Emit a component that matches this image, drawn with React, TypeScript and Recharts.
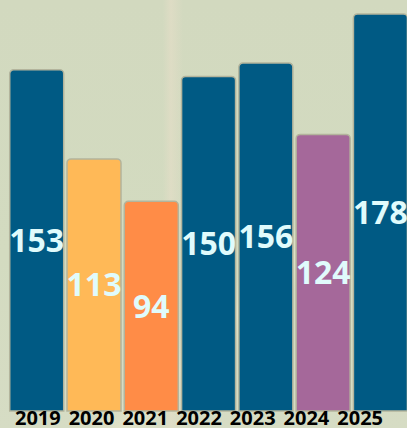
import { BarChart, Bar, XAxis, YAxis, Cell, LabelList } from 'recharts'

const years = ['2019', '2020', '2021', '2022', '2023', '2024', '2025']
const counts = [153, 113, 94, 150, 156, 124, 178]

const barColors = ['#005a84', '#ffb957', '#ff8c47', '#005a84', '#005a84', '#a5689a', '#005a84']

const data = years.map((year, i) => ({ year, count: counts[i] }))

const font = '"Open Sans", "Noto Sans", sans-serif'

// map-ish backdrop, just faint streaks over a sage base
const backdrop = [
  'linear-gradient(135deg, rgba(255,255,255,0) 62%, rgba(236,232,205,.55) 66%, rgba(255,255,255,0) 70%)',
  'linear-gradient(90deg, rgba(255,255,255,0) 40%, rgba(230,222,200,.6) 42%, rgba(255,255,255,0) 45%)',
  'linear-gradient(180deg, #d2d9bf 0%, #d3dbc0 60%, #d6dcc4 100%)',
].join(', ')

export default function App() {
  return (
    <div
      style={{
        position: 'fixed',
        top: 0,
        left: 0,
        width: 407,
        height: 428,
        overflow: 'hidden',
        background: backdrop,
      }}
    >
      <BarChart
        width={409}
        height={428}
        data={data}
        margin={{ top: 14, right: 0, left: 8, bottom: 0 }}
        barCategoryGap="3%"
      >
        {/* year labels in the original are packed tighter than the bars */}
        <XAxis
          xAxisId="labels"
          dataKey="year"
          height={17}
          padding={{ left: 3, right: 22 }}
          axisLine={false}
          tickLine={false}
          tickSize={0}
          tickMargin={0}
          interval={0}
          tick={{ fill: '#000', fontSize: 20, fontWeight: 700, fontFamily: font }}
        />
        <XAxis xAxisId="bars" dataKey="year" hide height={0} />
        <YAxis hide domain={[0, 'dataMax']} />
        <Bar
          xAxisId="bars"
          dataKey="count"
          isAnimationActive={false}
          radius={[4, 4, 0, 0]}
          stroke="#b3b49c"
          strokeWidth={1.5}
        >
          {data.map((_, i) => (
            <Cell key={i} fill={barColors[i]} />
          ))}
          <LabelList
            dataKey="count"
            position="center"
            fill="#e0fbfc"
            style={{ fontSize: 32, fontWeight: 700, fontFamily: font }}
          />
        </Bar>
      </BarChart>
    </div>
  )
}
